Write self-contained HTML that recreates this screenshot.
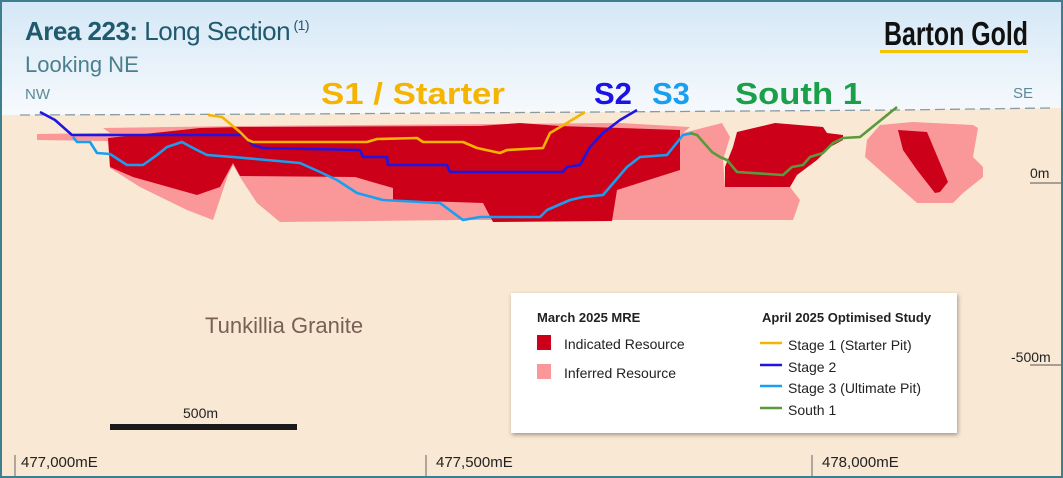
<!DOCTYPE html>
<html><head><meta charset="utf-8"><style>
html,body{margin:0;padding:0;}
body{width:1063px;height:478px;overflow:hidden;}
svg{display:block;font-family:"Liberation Sans",sans-serif;}
</style></head><body>
<svg width="1063" height="478" viewBox="0 0 1063 478" xmlns="http://www.w3.org/2000/svg">
<defs>
<linearGradient id="sky" x1="0" y1="0" x2="0" y2="1">
<stop offset="0" stop-color="#d4e7f6"/><stop offset="1" stop-color="#f7fafd"/>
</linearGradient>
<filter id="sh" x="-5%" y="-5%" width="110%" height="115%"><feDropShadow dx="1" dy="2" stdDeviation="2" flood-color="#000" flood-opacity="0.35"/></filter>
</defs>
<rect x="0" y="0" width="1063" height="116" fill="url(#sky)"/>
<path d="M0,115 L300,114 L600,112 L900,110 L1063,108 L1063,478 L0,478 Z" fill="#f9e8d3"/>
<path d="M20,115 L300,114 L600,112 L900,110 L1050,108" fill="none" stroke="#8a9aa2" stroke-width="1.3" stroke-dasharray="10,5"/>
<g fill="#f99799">
<path d="M37,134 L110,133 L103,128 L240,126 L620,123 L690,127 L683,133 L722,123 L730,137 L723,160 L725,187 L790,187 L800,200 L793,220 L612,220 L457,220 L280,222 L257,203 L240,177 L233,165 L228,175 L213,220 L187,210 L140,187 L110,168 L108,141 L37,140 Z"/>
<path d="M867,140 L880,125 L913,122 L973,125 L978,128 L973,157 L983,167 L983,177 L963,193 L953,203 L917,203 L883,173 L865,157 Z"/>
</g>
<g fill="#cc0019">
<path d="M108,138 L200,128 L240,127 L480,126 L520,123 L560,126 L680,130 L680,170 L617,190 L612,221 L493,222 L483,203 L393,200 L393,188 L355,177 L240,176 L233,163 L220,187 L197,195 L133,177 L110,167 Z"/>
<path d="M737,132 L775,123 L823,127 L827,133 L843,135 L843,140 L830,147 L817,160 L797,175 L790,187 L725,187 L725,167 L733,147 Z"/>
<path d="M898,130 L927,132 L948,182 L940,192 L935,193 L917,170 L903,150 Z"/>
</g>
<g fill="none" stroke-width="2.6" stroke-linejoin="round">
<polyline stroke="#1a9ff0" points="73,137 77,142 90,142 97,153 110,154 127,165 143,165 157,155 167,147 182,142 193,148 207,155 233,157 300,163 320,172 337,180 357,193 383,200 440,203 463,220 480,217 540,217 547,210 570,200 583,197 603,195 627,167 640,157 667,155 683,135 693,133"/>
<polyline stroke="#5a9a3a" points="690,133 697,135 712,152 720,157 727,160 737,172 783,175 792,167 803,165 810,157 823,153 833,143 843,138 860,137 897,107"/>
<polyline stroke="#2015e0" points="40,112 55,120 72,135 243,135 253,145 263,148 360,150 363,157 387,157 388,165 447,165 450,172 563,172 567,167 580,165 590,147 603,133 620,120 637,110"/>
<polyline stroke="#f5b400" points="208,115 222,117 240,132 248,140 253,142 367,142 377,139 417,138 423,142 463,142 477,148 500,153 507,150 543,148 550,133 567,123 585,112"/>
</g>
<text x="25" y="40" font-size="26" fill="#1f5a6e" font-weight="bold" letter-spacing="-0.5">Area 223:<tspan font-weight="normal"> Long Section</tspan><tspan font-size="14" dy="-10" font-weight="normal"> (1)</tspan></text>
<text x="25" y="72" font-size="22" fill="#4a7f8e">Looking NE</text>
<text x="25" y="99" font-size="15" fill="#5a8a98">NW</text>
<text x="1013" y="98" font-size="15" fill="#5a8a98">SE</text>
<text x="321" y="104" font-size="31" font-weight="bold" fill="#f5b400" textLength="184" lengthAdjust="spacingAndGlyphs">S1 / Starter</text>
<text x="594" y="104" font-size="31" font-weight="bold" fill="#1d12e6">S2</text>
<text x="652" y="104" font-size="31" font-weight="bold" fill="#1a9ff0">S3</text>
<text x="735" y="104" font-size="31" font-weight="bold" fill="#1aa048" textLength="127" lengthAdjust="spacingAndGlyphs">South 1</text>
<text x="884" y="45" font-size="33" font-weight="bold" fill="#111" font-family="Liberation Sans Narrow, Liberation Sans, sans-serif" textLength="144" lengthAdjust="spacingAndGlyphs">Barton Gold</text>
<rect x="880" y="50" width="148" height="3" fill="#f5c400"/>
<text x="1030" y="178" font-size="14" fill="#222">0m</text>
<line x1="1030" y1="183" x2="1063" y2="183" stroke="#555" stroke-width="1"/>
<text x="1011" y="362" font-size="14" fill="#222">-500m</text>
<line x1="1030" y1="365" x2="1063" y2="365" stroke="#555" stroke-width="1"/>
<text x="205" y="333" font-size="22" fill="#7a5f55">Tunkillia Granite</text>
<text x="183" y="418" font-size="14" fill="#222">500m</text>
<rect x="110" y="424" width="187" height="6" fill="#1a1a1a"/>
<g stroke="#666" stroke-width="1">
<line x1="15" y1="455" x2="15" y2="478"/><line x1="426" y1="455" x2="426" y2="478"/><line x1="812" y1="455" x2="812" y2="478"/>
</g>
<g font-size="15" fill="#222">
<text x="21" y="467">477,000mE</text>
<text x="436" y="467">477,500mE</text>
<text x="822" y="467">478,000mE</text>
</g>
<rect x="511" y="293" width="446" height="140" fill="#fff" filter="url(#sh)"/>
<g font-size="13" fill="#222">
<text x="537" y="322" font-weight="bold">March 2025 MRE</text>
<rect x="537" y="335" width="14" height="15" fill="#cc0019"/>
<text x="564" y="349" font-size="14">Indicated Resource</text>
<rect x="537" y="364" width="14" height="15" fill="#f99799"/>
<text x="564" y="378" font-size="14">Inferred Resource</text>
<text x="762" y="322" font-weight="bold">April 2025 Optimised Study</text>
<text x="788" y="350" font-size="14">Stage 1 (Starter Pit)</text>
<text x="788" y="372" font-size="14">Stage 2</text>
<text x="788" y="393" font-size="14">Stage 3 (Ultimate Pit)</text>
<text x="788" y="415" font-size="14">South 1</text>
</g>
<g stroke-width="2.5">
<line x1="760" y1="343" x2="782" y2="343" stroke="#f5b400"/>
<line x1="760" y1="365" x2="782" y2="365" stroke="#2015e0"/>
<line x1="760" y1="386" x2="782" y2="386" stroke="#1a9ff0"/>
<line x1="760" y1="408" x2="782" y2="408" stroke="#5a9a3a"/>
</g>
<rect x="1" y="1" width="1061" height="476" fill="none" stroke="#3e7f8e" stroke-width="2"/>
</svg>
</body></html>
